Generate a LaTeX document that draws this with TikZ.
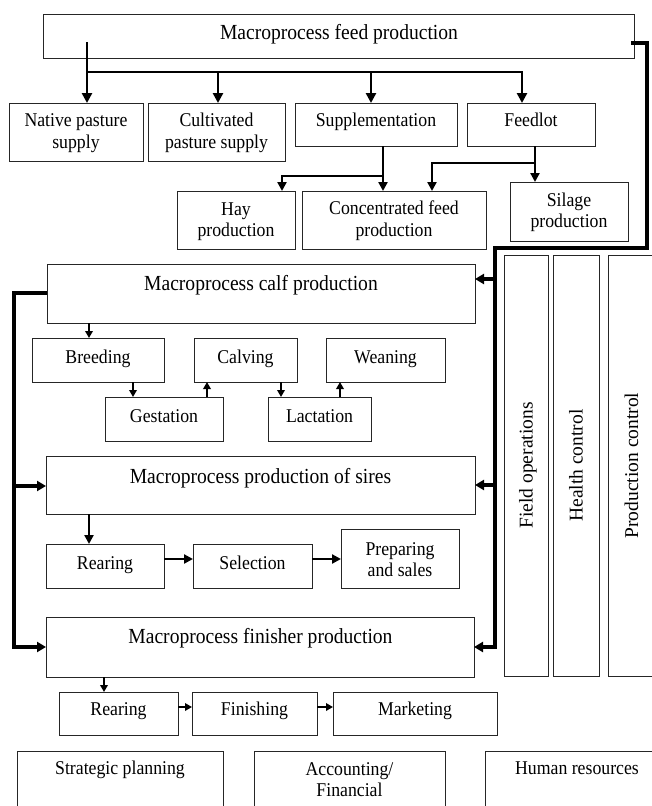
\documentclass[tikz,border=0pt]{standalone}
\usepackage{fontspec}
\setmainfont[FakeStretch=0.91]{Liberation Serif}
\newfontfamily\vfont{Liberation Serif}
\usetikzlibrary{arrows.meta}
\newcommand\bx[5]{\node[box, minimum width={(#4)-(#2)}, minimum height={(#5)-(#3)}] (#1) at ({((#2)+(#4))/2},{((#3)+(#5))/2}) {};}
\begin{document}
\begin{tikzpicture}[x=1pt,y=-1pt,
  box/.style={draw=black!85, line width=0.9pt, inner sep=0pt, outer sep=0pt},
  txt/.style={font=\fontsize{19.5}{21.5}\selectfont, align=center, inner sep=0pt},
  one/.style={txt, text height=13pt, text depth=0pt},
  head/.style={font=\fontsize{21.5}{24}\selectfont, inner sep=0pt, text height=14.2pt, text depth=0pt},
  vtxt/.style={font=\vfont\fontsize{19.5}{21.5}\selectfont, rotate=90, inner sep=0pt, text height=13pt, text depth=0pt},
  fbus/.style={line width=2.8pt},
  farr/.style={fbus, -{Triangle[length=10pt,width=10pt]}},
  marr/.style={line width=2.5pt, -{Triangle[length=9pt,width=9pt]}},
  sarr/.style={line width=2pt, -{Triangle[length=7pt,width=7.5pt]}},
  bbus/.style={line width=3.8pt},
  barr/.style={bbus, -{Triangle[length=9pt,width=10pt]}},
]
\useasboundingbox (0,0) rectangle (652,806);
\clip (0,0) rectangle (652,806);

% boxes
\bx{feed}{43}{14}{634}{58}
\bx{native}{9}{103}{143}{161}
\bx{cult}{148}{103}{285}{161}
\bx{supp}{295}{103}{457}{146}
\bx{feedlot}{467}{103}{595}{146}
\bx{hay}{177}{191}{295}{249}
\bx{conc}{302}{191}{486}{249}
\bx{silage}{510}{182}{628}{241}
\bx{calf}{47}{264}{475}{323}
\bx{breed}{32}{338}{164}{382}
\bx{calv}{194}{338}{297}{382}
\bx{wean}{326}{338}{445}{382}
\bx{gest}{105}{397}{223}{441}
\bx{lact}{268}{397}{371}{441}
\bx{sires}{46}{456}{475}{514}
\bx{rear}{46}{544}{164}{588}
\bx{sel}{193}{544}{312}{588}
\bx{prep}{341}{529}{459}{588}
\bx{fin}{46}{617}{474}{677}
\bx{reartwo}{59}{692}{178}{735}
\bx{finish}{192}{692}{317}{735}
\bx{mkt}{333}{692}{497}{735}
\bx{strat}{17}{751}{223}{815}
\bx{acc}{254}{751}{445}{815}
\bx{hr}{485}{751}{669}{815}
\bx{field}{504}{255}{548}{676}
\bx{health}{553}{255}{599}{676}
\bx{prodc}{608}{255}{655}{676}

% texts
\node[head] (feedt) at (339,32) {Macroprocess feed production};
\node[txt] (nativet) at (76,133) {Native pasture\\supply};
\node[txt] (cultt) at (216.5,133) {Cultivated\\pasture supply};
\node[one] (suppt) at (376,120) {Supplementation};
\node[one] (feedlott) at (531,120) {Feedlot};
\node[txt] (hayt) at (236,221.5) {Hay\\production};
\node[txt] (conct) at (394,220.5) {Concentrated feed\\production};
\node[txt] (silaget) at (569,212.5) {Silage\\production};
\node[head] (calft) at (261,283) {Macroprocess calf production};
\node[one] (breedt) at (98,357) {Breeding};
\node[one] (calvt) at (245.5,357) {Calving};
\node[one] (weant) at (385.5,357) {Weaning};
\node[one] (gestt) at (164,416) {Gestation};
\node[one] (lactt) at (319.5,416) {Lactation};
\node[head] (sirest) at (260.5,476) {Macroprocess production of sires};
\node[one] (reart) at (105,563) {Rearing};
\node[one] (selt) at (252.5,563) {Selection};
\node[txt] (prept) at (400,559.5) {Preparing\\and sales};
\node[head] (fint) at (260.5,636) {Macroprocess finisher production};
\node[one] (reartwot) at (118.5,709) {Rearing};
\node[one] (finisht) at (254.5,709) {Finishing};
\node[one] (mktt) at (415,709) {Marketing};
\node[one] (stratt) at (120,768) {Strategic planning};
\node[txt] (acct) at (349.5,779.5) {Accounting/\\Financial};
\node[one] (hrt) at (577,768) {Human resources};
\node[vtxt] (fieldt) at (field.center) {Field operations};
\node[vtxt] (healtht) at (health.center) {Health control};
\node[vtxt] (prodct) at (prodc.center) {Production control};

% feed bus
\coordinate (fs) at (87,42);
\coordinate (fj) at (87,72);
\coordinate (fc) at (218,72);
\coordinate (fsu) at (371,72);
\coordinate (fe) at (522,72);
\draw[farr] (fs) -- (fs |- native.north);
\draw[farr] (fj) -- (fe) -- (fe |- feedlot.north);
\draw[farr] (fc) -- (fc |- cult.north);
\draw[farr] (fsu) -- (fsu |- supp.north);

% supplementation
\coordinate (sx) at (383,176);
\coordinate (hx) at (282,176);
\draw[marr] (sx |- supp.south) -- (sx |- conc.north);
\draw[marr] (sx) -- (hx) -- (hx |- hay.north);

% feedlot
\coordinate (lx) at (535,163);
\coordinate (cx) at (432,163);
\draw[marr] (lx |- feedlot.south) -- (lx |- silage.north);
\draw[marr] (lx) -- (cx) -- (cx |- conc.north);

% right feedback bus
\coordinate (r0) at (631,43);
\coordinate (r1) at (647,43);
\coordinate (r2) at (647,248);
\coordinate (r3) at (495,248);
\coordinate (r4) at (495,647);
\draw[barr] (r0) -- (r1) -- (r2) -- (r3) -- (r4) -- (r4 -| fin.east);
\coordinate (rc) at (495,279);
\coordinate (rs) at (495,485);
\draw[barr] (rc) -- (rc -| calf.east);
\draw[barr] (rs) -- (rs -| sires.east);

% left bus
\coordinate (l0) at (14,293);
\coordinate (l1) at (14,647);
\coordinate (ls) at (14,486);
\draw[barr] (l0 -| calf.west) -- (l0) -- (l1) -- (l1 -| fin.west);
\draw[barr] (ls) -- (ls -| sires.west);

% calf sub-process
\coordinate (a1) at (89,0);
\coordinate (a2) at (133,0);
\coordinate (a3) at (207,0);
\coordinate (a4) at (281,0);
\coordinate (a5) at (340,0);
\draw[sarr] (a1 |- calf.south) -- (a1 |- breed.north);
\draw[sarr] (a2 |- breed.south) -- (a2 |- gest.north);
\draw[sarr] (a3 |- gest.north) -- (a3 |- calv.south);
\draw[sarr] (a4 |- calv.south) -- (a4 |- lact.north);
\draw[sarr] (a5 |- lact.north) -- (a5 |- wean.south);

% sires sub-process
\coordinate (b1) at (89,0);
\coordinate (by) at (0,559);
\draw[marr] (b1 |- sires.south) -- (b1 |- rear.north);
\draw[marr] (rear.east |- by) -- (sel.west |- by);
\draw[marr] (sel.east |- by) -- (prep.west |- by);

% finisher sub-process
\coordinate (c1) at (104,0);
\coordinate (cy) at (0,707);
\draw[sarr] (c1 |- fin.south) -- (c1 |- reartwo.north);
\draw[sarr] (reartwo.east |- cy) -- (finish.west |- cy);
\draw[sarr] (finish.east |- cy) -- (mkt.west |- cy);
\end{tikzpicture}
\end{document}
